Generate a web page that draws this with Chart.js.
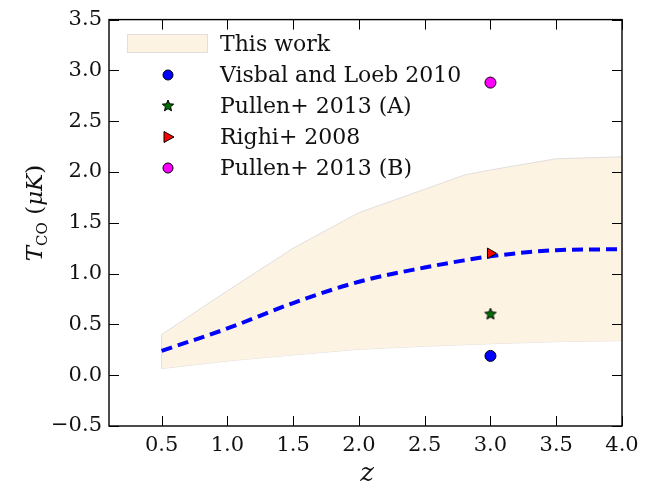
<!DOCTYPE html>
<html><head><meta charset="utf-8">
<script src="https://cdn.jsdelivr.net/npm/chart.js@4.4.1/dist/chart.umd.min.js"></script>
<style>html,body{margin:0;padding:0;background:#fff;}canvas{display:block;}</style>
</head><body>
<canvas id="c" width="659" height="487"></canvas>
<script>
// ---- data ----
const zGrid   = [0.5, 1.0, 1.5, 2.0, 2.5, 2.8, 3.0, 3.5, 4.0];
const bandUpper = [0.40, 0.83, 1.25, 1.60, 1.83, 1.97, 2.02, 2.13, 2.15];
const bandLower = [0.065, 0.14, 0.20, 0.255, 0.285, 0.30, 0.31, 0.33, 0.34];
const median    = [0.24, 0.46, 0.71, 0.92, 1.06, 1.13, 1.17, 1.23, 1.24];
const pointZ = 3.0;
const visbal = [0.19];
const pullenA = [0.60];
const righi = [1.20];
const pullenB = [2.88];
const xTicks = [0.5, 1.0, 1.5, 2.0, 2.5, 3.0, 3.5, 4.0];
const yTicks = [-0.5, 0.0, 0.5, 1.0, 1.5, 2.0, 2.5, 3.0, 3.5];
const legendLabels = ['This work', 'Visbal and Loeb 2010', 'Pullen+ 2013 (A)', 'Righi+ 2008', 'Pullen+ 2013 (B)'];

const FONT = '"DejaVu Serif", serif';
const bandFill = 'rgb(253,243,226)';
const bandEdge = 'rgb(226,222,222)';

function makeStar(r, fill){
  const s = Math.ceil(r*2+4);
  const cv = document.createElement('canvas'); cv.width = s; cv.height = s;
  const c = cv.getContext('2d');
  c.beginPath();
  for(let i=0;i<10;i++){
    const ang = -Math.PI/2 + i*Math.PI/5;
    const rr = (i%2===0)? r : r*0.45;
    const px = s/2 + rr*Math.cos(ang), py = s/2 + rr*Math.sin(ang);
    if(i===0) c.moveTo(px,py); else c.lineTo(px,py);
  }
  c.closePath(); c.fillStyle = fill; c.fill();
  c.lineWidth = 1; c.strokeStyle = '#000'; c.stroke();
  return cv;
}
const starImg = makeStar(6, 'rgb(0,110,0)');

const pts = v => v.map(y => ({x: pointZ, y}));
const line = arr => zGrid.map((x,i)=>({x, y: arr[i]}));

const frameTicks = {
  id: 'frameTicks',
  afterDatasetsDraw(chart){
    const {ctx, chartArea: a, scales: {x, y}} = chart;
    ctx.save();
    ctx.strokeStyle = '#000';
    ctx.lineWidth = 1;
    const L = 10;
    xTicks.forEach(v => {
      const px = Math.round(x.getPixelForValue(v)) + 0.5;
      ctx.beginPath();
      ctx.moveTo(px, a.bottom); ctx.lineTo(px, a.bottom - L);
      ctx.moveTo(px, a.top); ctx.lineTo(px, a.top + L);
      ctx.stroke();
    });
    yTicks.forEach(v => {
      const py = Math.round(y.getPixelForValue(v)) + 0.5;
      ctx.beginPath();
      ctx.moveTo(a.left, py); ctx.lineTo(a.left + L, py);
      ctx.moveTo(a.right, py); ctx.lineTo(a.right - L, py);
      ctx.stroke();
    });
    ctx.lineWidth = 1.4;
    ctx.strokeRect(a.left, a.top, a.right - a.left, a.bottom - a.top);
    ctx.restore();
  }
};

const legendTitles = {
  id: 'legendTitles',
  afterDraw(chart){
    const {ctx} = chart;
    ctx.save();
    const tx = 220, mx = 168;
    const rows = [44, 75, 106, 137, 168];
    ctx.fillStyle = bandFill; ctx.strokeStyle = bandEdge; ctx.lineWidth = 1;
    ctx.fillRect(127, 34, 81, 19); ctx.strokeRect(127.5, 34.5, 80, 18);
    ctx.strokeStyle = '#000'; ctx.lineWidth = 1;
    ctx.beginPath(); ctx.arc(mx, rows[1], 5, 0, Math.PI*2); ctx.fillStyle = '#0000ff'; ctx.fill(); ctx.stroke();
    ctx.drawImage(starImg, mx - starImg.width/2, rows[2] - starImg.height/2);
    ctx.beginPath(); ctx.moveTo(mx - 4, rows[3] - 5.5); ctx.lineTo(mx + 6, rows[3]); ctx.lineTo(mx - 4, rows[3] + 5.5); ctx.closePath();
    ctx.fillStyle = '#ff0000'; ctx.fill(); ctx.stroke();
    ctx.beginPath(); ctx.arc(mx, rows[4], 5, 0, Math.PI*2); ctx.fillStyle = '#ff00ff'; ctx.fill(); ctx.stroke();
    ctx.fillStyle = '#111';
    ctx.font = '22px ' + FONT;
    ctx.textBaseline = 'middle'; ctx.textAlign = 'left';
    legendLabels.forEach((t,i) => ctx.fillText(t, tx, rows[i] + 1));

    ctx.font = 'italic 26px ' + FONT;
    ctx.textAlign = 'center'; ctx.textBaseline = 'alphabetic';
    ctx.fillText('z', 367, 481);

    ctx.translate(42, 213);
    ctx.rotate(-Math.PI/2);
    const parts = [
      {t:'T', f:'italic 23px ' + FONT, dy:0},
      {t:'CO', f:'15px ' + FONT, dy:5},
      {t:' (', f:'23px ' + FONT, dy:0},
      {t:'μK', f:'italic 23px ' + FONT, dy:0},
      {t:')', f:'23px ' + FONT, dy:0}
    ];
    let w = 0;
    parts.forEach(p => { ctx.font = p.f; p.w = ctx.measureText(p.t).width; w += p.w; });
    let cx = -w/2;
    ctx.textAlign = 'left';
    parts.forEach(p => { ctx.font = p.f; ctx.fillText(p.t, cx, p.dy); cx += p.w; });
    ctx.restore();
  }
};

const fmt = v => (Math.abs(v) < 1e-9 ? '0.0' : v.toFixed(1)).replace('-', '\u2212');

new Chart(document.getElementById('c'), {
  type: 'line',
  data: {
    datasets: [
      {label: 'lower', data: line(bandLower), borderColor: bandEdge, borderWidth: 1, pointRadius: 0, fill: false, order: 5},
      {label: 'upper', data: line(bandUpper), borderColor: bandEdge, borderWidth: 1, pointRadius: 0, fill: '-1', backgroundColor: bandFill, order: 4},
      {label: 'edge', data: [{x: zGrid[0], y: bandLower[0]}, {x: zGrid[0], y: bandUpper[0]}], borderColor: bandEdge, borderWidth: 1, pointRadius: 0, fill: false, order: 3},
      {label: 'median', data: line(median), borderColor: '#0000ff', borderWidth: 4, borderDash: [11, 6], pointRadius: 0, fill: false, cubicInterpolationMode: 'monotone', order: 2},
      {label: 'Visbal', data: pts(visbal), showLine: false, pointStyle: 'circle', pointRadius: 5.5, pointBackgroundColor: '#0000ff', pointBorderColor: '#000', pointBorderWidth: 1, order: 1},
      {label: 'PullenA', data: pts(pullenA), showLine: false, pointStyle: starImg, pointRadius: 6, order: 1},
      {label: 'Righi', data: pts(righi), showLine: false, pointStyle: 'triangle', rotation: 90, pointRadius: 6, pointBackgroundColor: '#ff0000', pointBorderColor: '#000', pointBorderWidth: 1, order: 1},
      {label: 'PullenB', data: pts(pullenB), showLine: false, pointStyle: 'circle', pointRadius: 5.5, pointBackgroundColor: '#ff00ff', pointBorderColor: '#000', pointBorderWidth: 1, order: 1}
    ]
  },
  options: {
    responsive: false, animation: false, devicePixelRatio: 1,
    layout: {padding: {left: 0, top: 15, right: 37, bottom: 0}},
    plugins: {legend: {display: false}, tooltip: {enabled: false}},
    scales: {
      x: {
        type: 'linear', min: 0.1, max: 4.0,
        afterBuildTicks: s => { s.ticks = xTicks.map(v => ({value: v})); },
        afterFit: s => { s.height = 61; },
        grid: {display: false, drawTicks: false}, border: {display: false},
        ticks: {padding: 7, font: {family: FONT, size: 21}, color: '#111', maxRotation: 0, autoSkip: false, callback: v => v.toFixed(1)}
      },
      y: {
        type: 'linear', min: -0.5, max: 3.5,
        afterBuildTicks: s => { s.ticks = yTicks.map(v => ({value: v})); },
        afterFit: s => { s.width = 109; },
        grid: {display: false, drawTicks: false}, border: {display: false},
        ticks: {padding: 7, font: {family: FONT, size: 21}, color: '#111', autoSkip: false, callback: v => fmt(v)}
      }
    }
  },
  plugins: [frameTicks, legendTitles]
});
</script>
</body></html>
